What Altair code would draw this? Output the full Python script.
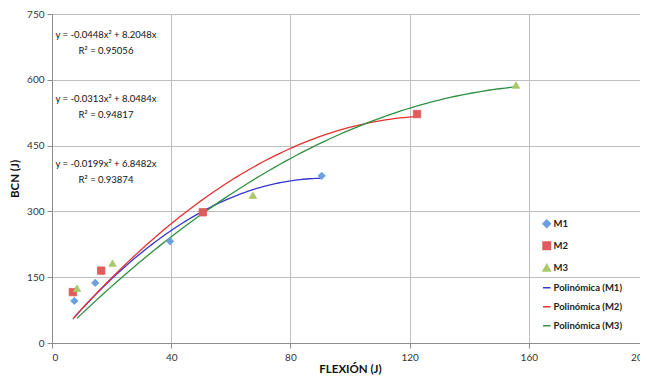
import altair as alt
import pandas as pd
import numpy as np

# ---- data ----
series = ["M1", "M2", "M3"]
m1_x = [7.5, 14.5, 39.6, 90.5]
m1_y = [96, 137, 232, 381]
m2_x = [7.0, 16.5, 50.6, 122.5]
m2_y = [116, 165, 298, 522]
m3_x = [8.4, 20.3, 67.4, 155.7]
m3_y = [125, 182, 337, 588]
coef_a = [-0.0448, -0.0313, -0.0199]
coef_b = [8.2048, 8.0484, 6.8482]
r2_txt = ["0.95056", "0.94817", "0.93874"]
trend_names = ["Polinómica (M1)", "Polinómica (M2)", "Polinómica (M3)"]
x_ticks = [0, 40, 80, 120, 160, 200]
y_ticks = [0, 150, 300, 450, 600, 750]

xs = [m1_x, m2_x, m3_x]
ys = [m1_y, m2_y, m3_y]

points = pd.DataFrame(
    [{"series": s, "x": xv, "y": yv} for s, xl, yl in zip(series, xs, ys) for xv, yv in zip(xl, yl)]
)

params = pd.DataFrame({
    "series": trend_names,
    "a": coef_a,
    "b": coef_b,
    "xmin": [min(v) for v in xs],
    "xmax": [max(v) for v in xs],
})
tgrid = pd.DataFrame({"t": np.linspace(0, 1, 81)})
trend = params.merge(tgrid, how="cross")

domain = series + trend_names
fill_colors = ["#6A9FE0", "#E05C5C", "#A9C969", "#3636D2", "#E8302E", "#2E9040"]
shapes = ["diamond", "square", "triangle-up", "stroke", "stroke", "stroke"]
sizes = [55, 55, 55, 121, 121, 121]

FONT = "Lato"

legend = alt.Legend(
    title=None,
    orient="none",
    legendX=490,
    legendY=205,
    labelFont=FONT,
    labelFontSize=9.5,
    labelFontWeight="bold",
    labelColor="#222",
    rowPadding=8,
    labelOffset=2,
    symbolStrokeWidth=1.5,
    symbolOpacity=1,
)

color_scale = alt.Scale(domain=domain, range=fill_colors)
shape_scale = alt.Scale(domain=domain, range=shapes)
size_scale = alt.Scale(domain=domain, range=sizes)

xenc = alt.X("x:Q", scale=alt.Scale(domain=[0, 200], nice=False),
             axis=alt.Axis(values=x_ticks, title="FLEXIÓN (J)"))
yenc = alt.Y("y:Q", scale=alt.Scale(domain=[0, 750], nice=False),
             axis=alt.Axis(values=y_ticks, title="BCN (J)"))

lines = alt.Chart(trend).transform_calculate(
    x="datum.xmin + datum.t * (datum.xmax - datum.xmin)"
).transform_calculate(
    y="datum.a * datum.x * datum.x + datum.b * datum.x"
).mark_line(strokeWidth=1.3).encode(
    x=xenc, y=yenc,
    stroke=alt.Stroke("series:N", scale=color_scale, legend=legend),
    detail="series:N",
    order="t:Q",
)

pts = alt.Chart(points).mark_point(filled=True, opacity=1, strokeWidth=0.8).encode(
    x=xenc, y=yenc,
    fill=alt.Fill("series:N", scale=color_scale, legend=legend),
    stroke=alt.Stroke("series:N", scale=color_scale, legend=legend),
    shape=alt.Shape("series:N", scale=shape_scale, legend=legend),
    size=alt.Size("series:N", scale=size_scale, legend=legend),
)

layers = [lines, pts]
eq_y = [21, 85, 150]
for a, b, r, yy in zip(coef_a, coef_b, r2_txt, eq_y):
    txt = f"y = {a}x² + {b}x\nR² = {r}"
    layers.append(
        alt.Chart(pd.DataFrame({"t": [txt]})).mark_text(
            font=FONT, fontSize=9.5, color="#111", align="center", baseline="middle",
            lineBreak="\n", lineHeight=16,
        ).encode(x=alt.value(54), y=alt.value(yy), text="t:N")
    )

chart = alt.layer(*layers).properties(
    width=596, height=329,
    autosize=alt.AutoSizeParams(type="none"),
    padding={"left": 44, "top": 6, "right": -8, "bottom": 34},
).configure_view(stroke=None).configure_axis(
    grid=True,
    gridColor="#BEBEBE",
    gridWidth=1,
    domainColor="#8C8C8C",
    tickColor="#8C8C8C",
    tickSize=5,
    labelFont=FONT,
    labelFontSize=10,
    labelColor="#333",
    labelPadding=3,
    titleFont=FONT,
    titleFontSize=11.5,
    titleFontWeight="bold",
    titleColor="#111",
).configure_axisX(titlePadding=1, labelPadding=4).configure_axisY(titlePadding=6)

chart.save("out.html", embed_options={"renderer": "svg", "actions": False})
